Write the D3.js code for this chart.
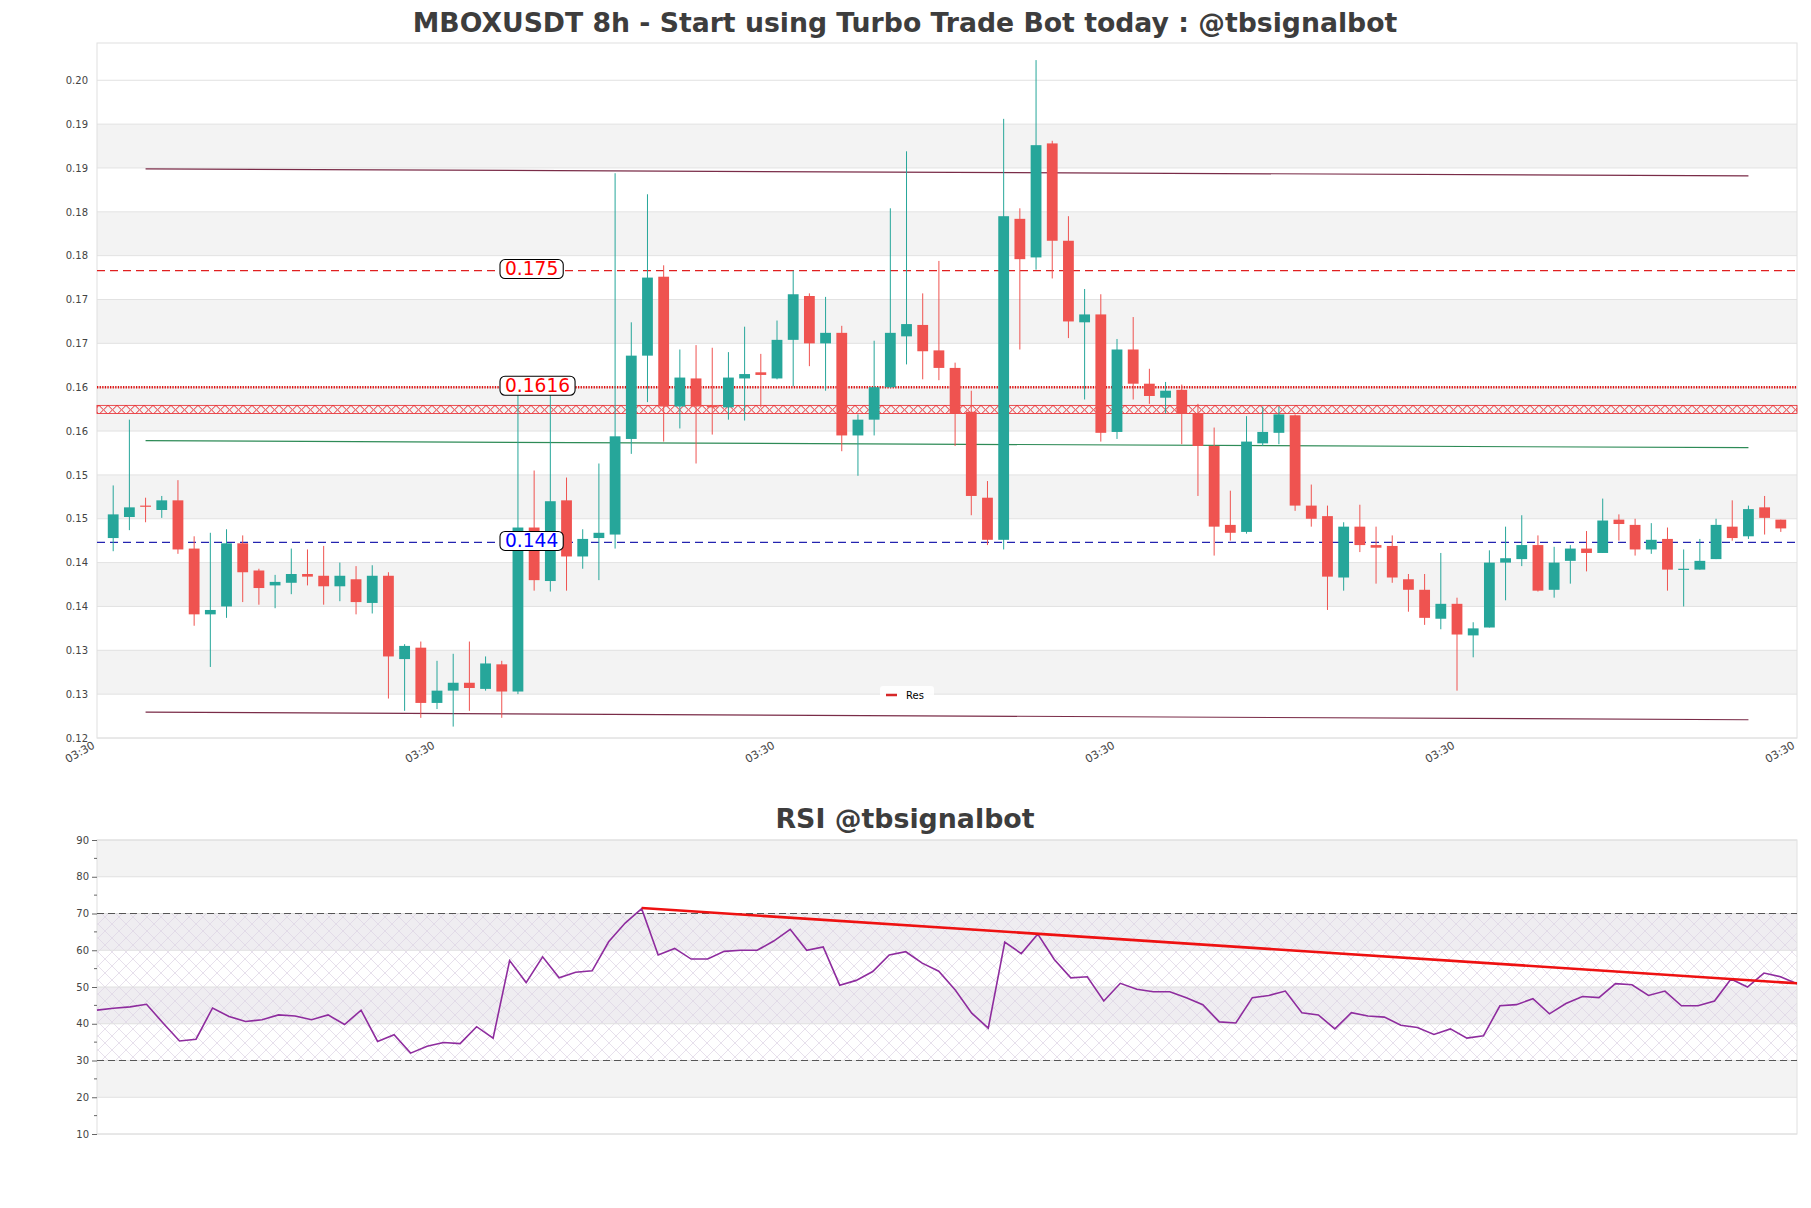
<!DOCTYPE html>
<html><head><meta charset="utf-8">
<script src="https://cdn.jsdelivr.net/npm/d3@7"></script>
<style>body{margin:0;background:#fff}svg{display:block;font-family:"DejaVu Sans",sans-serif}</style>
</head><body>
<svg id="chart" width="1811" height="1208"></svg>
<script>
// ---------------- DATA ----------------
const candleIndex = d3.range(104);
const opens = [0.1444,0.1468,0.1481,0.1476,0.1487,0.1432,0.1357,0.1366,0.1438,0.1407,0.1390,0.1393,0.1403,0.1401,0.1389,0.1397,0.1370,0.1401,0.1306,0.1319,0.1256,0.1270,0.1279,0.1272,0.1300,0.1269,0.1456,0.1395,0.1487,0.1423,0.1444,0.1448,0.1557,0.1652,0.1742,0.1594,0.1626,0.1595,0.1593,0.1626,0.1633,0.1626,0.1670,0.1720,0.1666,0.1678,0.1561,0.1579,0.1616,0.1674,0.1687,0.1658,0.1638,0.1588,0.1490,0.1442,0.1808,0.1764,0.1894,0.1783,0.1690,0.1699,0.1565,0.1659,0.1620,0.1604,0.1613,0.1586,0.1549,0.1459,0.1451,0.1552,0.1564,0.1584,0.1481,0.1469,0.1399,0.1457,0.1436,0.1435,0.1397,0.1385,0.1352,0.1369,0.1333,0.1342,0.1416,0.1420,0.1436,0.1385,0.1418,0.1432,0.1427,0.1465,0.1459,0.1431,0.1443,0.1408,0.1408,0.1420,0.1457,0.1446,0.1479,0.1465];
const highs = [0.1504,0.1579,0.1490,0.1492,0.1510,0.1446,0.1450,0.1454,0.1447,0.1409,0.1402,0.1432,0.1431,0.1435,0.1416,0.1412,0.1413,0.1405,0.1323,0.1326,0.1304,0.1312,0.1326,0.1309,0.1304,0.1607,0.1521,0.1607,0.1513,0.1454,0.1529,0.1860,0.1690,0.1836,0.1755,0.1659,0.1664,0.1661,0.1656,0.1685,0.1654,0.1692,0.1749,0.1723,0.1719,0.1686,0.1585,0.1669,0.1820,0.1885,0.1723,0.1760,0.1644,0.1612,0.1509,0.1922,0.1820,0.1989,0.1897,0.1811,0.1728,0.1722,0.1671,0.1696,0.1637,0.1622,0.1619,0.1597,0.1570,0.1498,0.1583,0.1594,0.1594,0.1585,0.1505,0.1481,0.1462,0.1482,0.1457,0.1447,0.1403,0.1403,0.1427,0.1376,0.1348,0.1430,0.1457,0.1470,0.1447,0.1434,0.1436,0.1452,0.1489,0.1471,0.1466,0.1461,0.1456,0.1431,0.1443,0.1466,0.1487,0.1481,0.1492,0.1465];
const lows = [0.1429,0.1453,0.1462,0.1467,0.1426,0.1344,0.1297,0.1353,0.1371,0.1368,0.1364,0.1380,0.1390,0.1368,0.1372,0.1357,0.1358,0.1261,0.1247,0.1239,0.1249,0.1229,0.1247,0.1270,0.1239,0.1266,0.1384,0.1383,0.1384,0.1409,0.1396,0.1432,0.1540,0.1599,0.1554,0.1569,0.1529,0.1562,0.1579,0.1578,0.1593,0.1625,0.1617,0.1640,0.1612,0.1543,0.1515,0.1561,0.1615,0.1642,0.1625,0.1624,0.1549,0.1470,0.1436,0.1431,0.1659,0.1750,0.1740,0.1672,0.1602,0.1554,0.1557,0.1602,0.1597,0.1586,0.1551,0.1492,0.1424,0.1441,0.1449,0.1549,0.1551,0.1475,0.1457,0.1362,0.1384,0.1428,0.1392,0.1393,0.1360,0.1345,0.1340,0.1270,0.1308,0.1342,0.1373,0.1412,0.1383,0.1376,0.1392,0.1406,0.1427,0.1441,0.1424,0.1426,0.1384,0.1366,0.1408,0.1420,0.1441,0.1443,0.1448,0.1451];
const closes = [0.1471,0.1479,0.1480,0.1487,0.1431,0.1357,0.1362,0.1438,0.1405,0.1387,0.1394,0.1403,0.1400,0.1389,0.1401,0.1371,0.1401,0.1309,0.1321,0.1256,0.1270,0.1279,0.1273,0.1301,0.1269,0.1456,0.1396,0.1486,0.1423,0.1443,0.1450,0.1560,0.1652,0.1741,0.1594,0.1627,0.1594,0.1593,0.1627,0.1631,0.1630,0.1670,0.1722,0.1666,0.1678,0.1561,0.1579,0.1616,0.1678,0.1688,0.1657,0.1638,0.1586,0.1492,0.1442,0.1811,0.1762,0.1892,0.1783,0.1691,0.1699,0.1564,0.1659,0.1620,0.1606,0.1612,0.1586,0.1549,0.1457,0.1450,0.1554,0.1565,0.1585,0.1481,0.1466,0.1400,0.1457,0.1436,0.1433,0.1399,0.1385,0.1353,0.1369,0.1334,0.1341,0.1416,0.1421,0.1436,0.1384,0.1416,0.1432,0.1427,0.1464,0.1460,0.1431,0.1442,0.1408,0.1409,0.1418,0.1459,0.1444,0.1477,0.1467,0.1455];
const rsiValues = [43.7,44.2,44.6,45.3,40.2,35.3,35.8,44.3,42.0,40.6,41.1,42.4,42.1,41.1,42.4,39.8,43.7,35.2,37.0,32.0,33.9,34.9,34.6,39.2,36.1,57.2,51.2,58.2,52.5,54.0,54.4,62.3,67.4,71.3,58.7,60.5,57.6,57.6,59.7,60.0,60.0,62.5,65.7,60.0,60.9,50.5,51.8,54.2,58.7,59.6,56.5,54.3,49.2,42.9,38.8,62.2,59.1,64.4,57.5,52.5,52.8,46.2,51.0,49.4,48.7,48.7,47.1,45.2,40.5,40.2,47.1,47.7,48.9,43.0,42.4,38.6,43.0,42.1,41.8,39.6,39.0,37.1,38.6,36.1,36.7,44.9,45.2,46.8,42.7,45.5,47.4,47.1,50.9,50.6,47.7,48.9,44.9,44.9,46.2,52.2,50.0,53.8,52.8,50.9];
const priceTickValues = [0.1216,0.1266,0.1316,0.1366,0.1416,0.1466,0.1516,0.1566,0.1616,0.1666,0.1716,0.1766,0.1816,0.1866,0.1916,0.1966];
const priceTickLabels = ["0.12","0.13","0.13","0.14","0.14","0.15","0.15","0.16","0.16","0.17","0.17","0.18","0.18","0.19","0.19","0.20"];
const timeTickPositions = [-1,20,41,62,83,104];
const timeTickLabels = ["03:30","03:30","03:30","03:30","03:30","03:30"];
const levelValues = [0.1749,0.1616,0.1439];
const levelLabels = ["0.175","0.1616","0.144"];
const resZone = [0.15861,0.15953];
const channelStartIndex = 2, channelEndIndex = 101;
const channelTop = [0.1865,0.1857];
const channelMid = [0.1555,0.1547];
const channelBottom = [0.12455,0.12368];
const rsiTrendIndex = [33,103];
const rsiTrendValues = [71.5,51.0];
const rsiTickValues = [10,20,30,40,50,60,70,80,90];
const rsiMinorTicks = [15,25,35,45,55,65,75,85];

// ---------------- LAYOUT ----------------
const svg = d3.select("#chart");
const L = 97, R = 1797;
const mainTop = 43, mainBottom = 738;
const rsiTop = 840, rsiBottom = 1134;

const x = d3.scaleLinear().domain([-1,104]).range([L,R]);
const y = d3.scaleLinear().domain([0.1216,0.20085]).range([mainBottom,mainTop]);
const xr = d3.scaleLinear().domain([0,103]).range([L,R]);
const yr = d3.scaleLinear().domain([10,90]).range([rsiBottom,rsiTop]);

const defs = svg.append("defs");
const hp = defs.append("pattern").attr("id","resHatch").attr("patternUnits","userSpaceOnUse")
  .attr("width",9).attr("height",9).attr("y",y(resZone[1]));
hp.append("path").attr("d","M0,0L9,9M9,0L0,9").attr("stroke","#e8262b").attr("stroke-width",1);
const rp = defs.append("pattern").attr("id","rsiHatch").attr("patternUnits","userSpaceOnUse")
  .attr("width",14).attr("height",14);
rp.append("path").attr("d","M0,0L14,14M14,0L0,14").attr("stroke","#dcd2e4").attr("stroke-width",0.7);

// ---------------- TITLES ----------------
svg.append("text").attr("x",905).attr("y",32).attr("text-anchor","middle")
  .attr("font-size",26.7).attr("font-weight","bold").attr("fill","#3d3d3d")
  .text("MBOXUSDT 8h - Start using Turbo Trade Bot today : @tbsignalbot");
svg.append("text").attr("x",905).attr("y",828).attr("text-anchor","middle")
  .attr("font-size",26.8).attr("font-weight","bold").attr("fill","#3d3d3d")
  .text("RSI @tbsignalbot");

// ---------------- MAIN PANEL ----------------
const main = svg.append("g");
for (let k = 1; k < priceTickValues.length-1; k += 2) {
  main.append("rect").attr("x",L).attr("width",R-L)
    .attr("y",y(priceTickValues[k+1])).attr("height",y(priceTickValues[k])-y(priceTickValues[k+1]))
    .attr("fill","#f3f3f3");
}
main.selectAll(".grid").data(priceTickValues).join("line")
  .attr("x1",L).attr("x2",R).attr("y1",d=>y(d)).attr("y2",d=>y(d))
  .attr("stroke","#e2e2e2").attr("stroke-width",1);
main.append("rect").attr("x",L).attr("y",mainTop).attr("width",R-L).attr("height",mainBottom-mainTop)
  .attr("fill","none").attr("stroke","#e0e0e0");

const yAxis = d3.axisLeft(y).tickValues(priceTickValues).tickFormat((d,i)=>priceTickLabels[i]).tickSize(0).tickPadding(9);
main.append("g").attr("transform",`translate(${L},0)`).call(yAxis)
  .call(g=>g.select(".domain").remove())
  .call(g=>g.selectAll("text").attr("font-size",10).attr("fill","#444").attr("font-family","DejaVu Sans"));

const xAxis = d3.axisBottom(x).tickValues(timeTickPositions).tickFormat((d,i)=>timeTickLabels[i]).tickSize(0);
main.append("g").attr("transform",`translate(0,${mainBottom})`).call(xAxis)
  .call(g=>g.select(".domain").remove())
  .call(g=>g.selectAll("text").attr("font-size",11).attr("fill","#444").attr("font-family","DejaVu Sans")
     .attr("text-anchor","end").attr("dy",0).attr("y",0)
     .attr("transform","translate(-2,9.5) rotate(-30)"));

main.append("rect").attr("x",L).attr("width",R-L)
  .attr("y",y(resZone[1])).attr("height",y(resZone[0])-y(resZone[1]))
  .attr("fill","url(#resHatch)").attr("stroke","#e8262b").attr("stroke-width",0.8);

const chan = [[channelTop,"#7a2c48"],[channelMid,"#2e8b57"],[channelBottom,"#7a2c48"]];
chan.forEach(([v,c])=>{
  main.append("line").attr("x1",x(channelStartIndex)).attr("x2",x(channelEndIndex))
    .attr("y1",y(v[0])).attr("y2",y(v[1])).attr("stroke",c).attr("stroke-width",1.2);
});

main.append("line").attr("x1",L).attr("x2",R).attr("y1",y(levelValues[0])).attr("y2",y(levelValues[0]))
  .attr("stroke","#e02020").attr("stroke-width",1.2).attr("stroke-dasharray","8,5");
main.append("line").attr("x1",L).attr("x2",R).attr("y1",y(levelValues[1])).attr("y2",y(levelValues[1]))
  .attr("stroke","#e01010").attr("stroke-width",2.6).attr("stroke-dasharray","1.3,1.3");
main.append("line").attr("x1",L).attr("x2",R).attr("y1",y(levelValues[2])).attr("y2",y(levelValues[2]))
  .attr("stroke","#2424b0").attr("stroke-width",1.2).attr("stroke-dasharray","8,5");

const bw = 10.8;
const cg = main.append("g");
cg.selectAll(".wick").data(candleIndex).join("line")
  .attr("x1",i=>x(i)).attr("x2",i=>x(i)).attr("y1",i=>y(highs[i])).attr("y2",i=>y(lows[i]))
  .attr("stroke",i=>closes[i]>=opens[i]?"#26a69a":"#ef5350").attr("stroke-width",1);
cg.selectAll(".body").data(candleIndex).join("rect")
  .attr("x",i=>x(i)-bw/2).attr("width",bw)
  .attr("y",i=>y(Math.max(opens[i],closes[i])))
  .attr("height",i=>Math.max(1.2,Math.abs(y(opens[i])-y(closes[i]))))
  .attr("fill",i=>closes[i]>=opens[i]?"#26a69a":"#ef5350");

const labColors = ["#ff0000","#ff0000","#0000ff"];
levelValues.forEach((v,k)=>{
  const g = main.append("g");
  const t = g.append("text").attr("x",505).attr("y",y(v)+4.5).attr("font-size",18.6)
    .attr("fill",labColors[k]).text(levelLabels[k]);
  const bb = t.node().getBBox();
  g.insert("rect","text").attr("x",bb.x-5).attr("y",y(v)-11).attr("width",bb.width+10).attr("height",19)
    .attr("rx",5).attr("fill","#fff").attr("stroke","#000").attr("stroke-width",1.1);
});

const lg = main.append("g");
lg.append("rect").attr("x",880).attr("y",686).attr("width",54).attr("height",16).attr("rx",3)
  .attr("fill","#fff").attr("opacity",0.85);
lg.append("line").attr("x1",886).attr("x2",897).attr("y1",695).attr("y2",695)
  .attr("stroke","#d62728").attr("stroke-width",2.5);
lg.append("text").attr("x",906).attr("y",698.5).attr("font-size",10).attr("fill","#000").text("Res");

// ---------------- RSI PANEL ----------------
const rsi = svg.append("g");
const rsiBands = [[80,90,"#f3f3f3"],[60,70,"#efedf1"],[40,50,"#efedf1"],[20,30,"#f3f3f3"]];
rsiBands.forEach(([a,b,c])=>{
  rsi.append("rect").attr("x",L).attr("width",R-L).attr("y",yr(b)).attr("height",yr(a)-yr(b)).attr("fill",c);
});
rsi.append("rect").attr("x",L).attr("width",R-L).attr("y",yr(70)).attr("height",yr(30)-yr(70))
  .attr("fill","url(#rsiHatch)");
rsi.selectAll(".g").data(rsiTickValues).join("line")
  .attr("x1",L).attr("x2",R).attr("y1",d=>yr(d)).attr("y2",d=>yr(d)).attr("stroke","#e0e0e0");
rsi.append("rect").attr("x",L).attr("y",rsiTop).attr("width",R-L).attr("height",rsiBottom-rsiTop)
  .attr("fill","none").attr("stroke","#e0e0e0");
[70,30].forEach(v=>{
  rsi.append("line").attr("x1",L).attr("x2",R).attr("y1",yr(v)).attr("y2",yr(v))
    .attr("stroke","#555").attr("stroke-width",1.2).attr("stroke-dasharray","7,4");
});
const rAxis = d3.axisLeft(yr).tickValues(rsiTickValues).tickSize(5).tickPadding(3);
rsi.append("g").attr("transform",`translate(${L},0)`).call(rAxis)
  .call(g=>g.select(".domain").remove())
  .call(g=>g.selectAll("line").attr("stroke","#666"))
  .call(g=>g.selectAll("text").attr("font-size",10).attr("fill","#444").attr("font-family","DejaVu Sans"));
rsi.selectAll(".minor").data(rsiMinorTicks).join("line")
  .attr("x1",L-3).attr("x2",L).attr("y1",d=>yr(d)).attr("y2",d=>yr(d)).attr("stroke","#666");

const rline = d3.line().x((d,i)=>xr(i)).y(d=>yr(d));
rsi.append("path").datum(rsiValues).attr("d",rline).attr("fill","none")
  .attr("stroke","#8e2c9e").attr("stroke-width",1.6);
rsi.append("line").attr("x1",xr(rsiTrendIndex[0])).attr("x2",xr(rsiTrendIndex[1]))
  .attr("y1",yr(rsiTrendValues[0])).attr("y2",yr(rsiTrendValues[1]))
  .attr("stroke","#ee1111").attr("stroke-width",2.6);
</script>
</body></html>
